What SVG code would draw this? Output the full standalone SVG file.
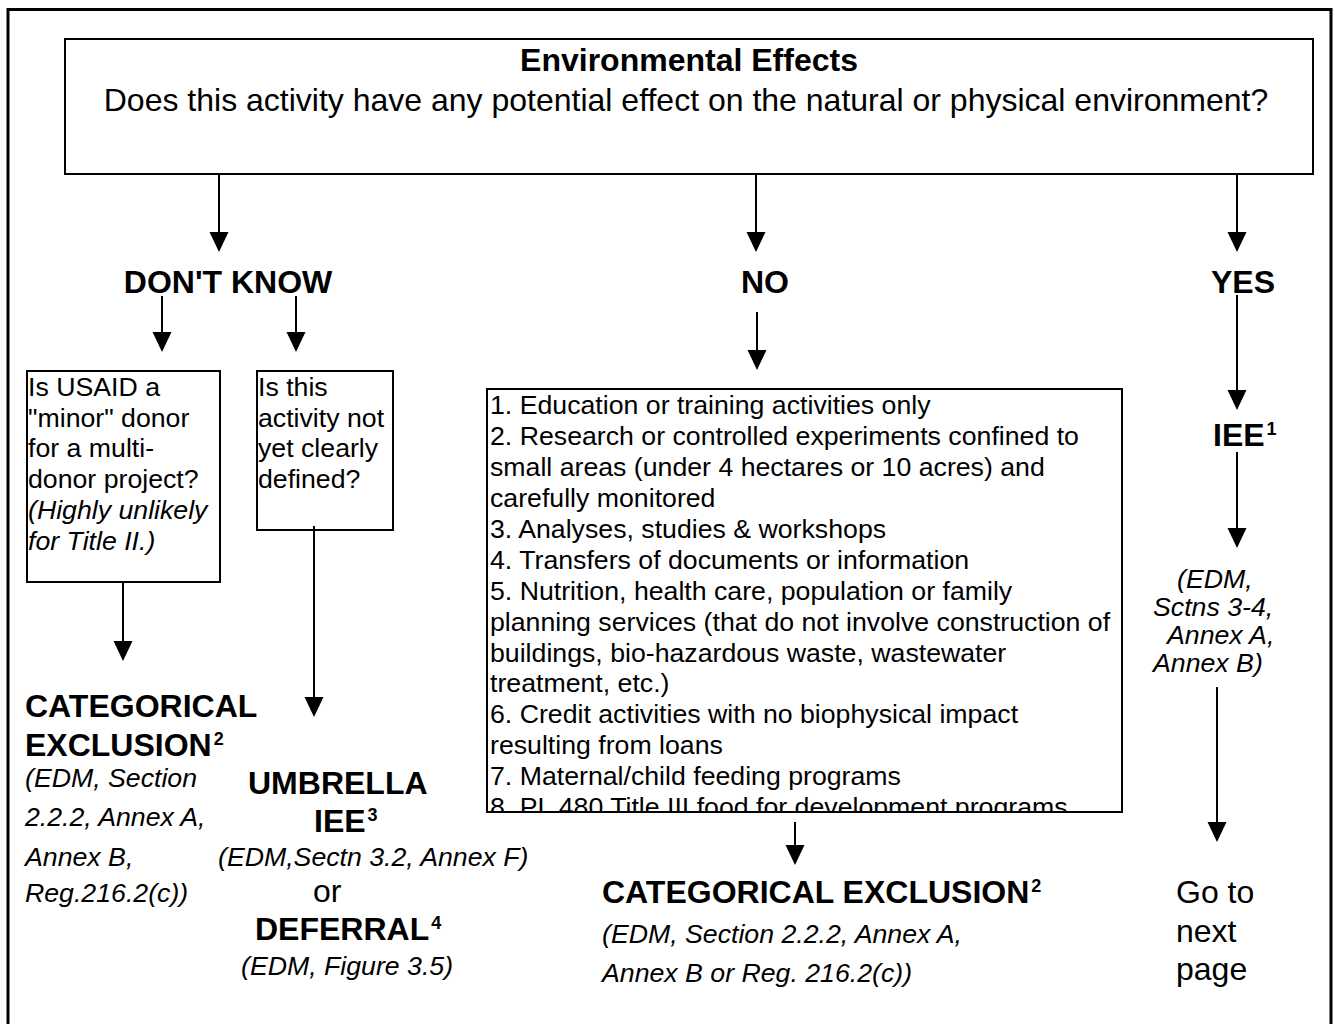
<svg xmlns="http://www.w3.org/2000/svg" width="1335" height="1024" viewBox="0 0 1335 1024">
<style>
text{font-family:"Liberation Sans",Arial,sans-serif;fill:#000}
.b{font-weight:bold;font-size:32px}
.r{font-size:32px}
.m{font-size:26.7px}
.i{font-size:26.7px;font-style:italic}
.sup{font-size:18px;font-weight:bold}
.box{fill:#fff;stroke:#000;stroke-width:2}
.c line{stroke:#000;stroke-width:2;marker-end:url(#ah)}
</style>
<defs>
<marker id="ah" markerUnits="userSpaceOnUse" markerWidth="20" markerHeight="20" viewBox="0 0 20 20" refX="12" refY="10" orient="auto">
<path d="M0,0.5 L20,10 L0,19.5 z" fill="#000"/>
</marker>
<clipPath id="lc"><rect x="488" y="390" width="633" height="421"/></clipPath>
</defs>
<rect x="0" y="0" width="1335" height="1024" fill="#fff"/>
<rect id="frame" x="8" y="9.5" width="1323" height="1040" fill="none" stroke="#000" stroke-width="3"/>

<g id="top">
<rect class="box" x="65" y="39" width="1248" height="135"/>
<text class="b" x="689" y="71" text-anchor="middle">Environmental Effects</text>
<text class="r" x="686" y="111" text-anchor="middle">Does this activity have any potential effect on the natural or physical environment?</text>
</g>

<g id="dontknow"><text class="b" x="228" y="293" text-anchor="middle">DON'T KNOW</text></g>
<g id="no"><text class="b" x="765" y="293" text-anchor="middle">NO</text></g>
<g id="yes"><text class="b" x="1243" y="293" text-anchor="middle">YES</text></g>

<g id="boxA">
<rect class="box" x="27" y="371" width="193" height="211"/>
<text class="m" x="28" y="396">Is USAID a</text>
<text class="m" x="28" y="427">"minor" donor</text>
<text class="m" x="28" y="457">for a multi-</text>
<text class="m" x="28" y="488">donor project?</text>
<text class="i" x="28" y="519">(Highly unlikely</text>
<text class="i" x="28" y="550">for Title II.)</text>
</g>

<g id="boxB">
<rect class="box" x="257" y="371" width="136" height="159"/>
<text class="m" x="258" y="396">Is this</text>
<text class="m" x="258" y="427">activity not</text>
<text class="m" x="258" y="457">yet clearly</text>
<text class="m" x="258" y="488">defined?</text>
</g>

<g id="list">
<rect class="box" x="487" y="389" width="635" height="423"/>
<g clip-path="url(#lc)">
<text class="m" x="490" y="414">1. Education or training activities only</text>
<text class="m" x="490" y="445">2. Research or controlled experiments confined to</text>
<text class="m" x="490" y="476">small areas (under 4 hectares or 10 acres) and</text>
<text class="m" x="490" y="507">carefully monitored</text>
<text class="m" x="490" y="538">3. Analyses, studies &amp; workshops</text>
<text class="m" x="490" y="569">4. Transfers of documents or information</text>
<text class="m" x="490" y="600">5. Nutrition, health care, population or family</text>
<text class="m" x="490" y="631">planning services (that do not involve construction of</text>
<text class="m" x="490" y="662">buildings, bio-hazardous waste, wastewater</text>
<text class="m" x="490" y="692">treatment, etc.)</text>
<text class="m" x="490" y="723">6. Credit activities with no biophysical impact</text>
<text class="m" x="490" y="754">resulting from loans</text>
<text class="m" x="490" y="785">7. Maternal/child feeding programs</text>
<text class="m" x="490" y="816">8. PL 480 Title III food for development programs</text>
</g>
</g>

<g id="iee">
<text class="b" x="1213" y="446">IEE<tspan class="sup" dx="2" dy="-11">1</tspan></text>
</g>
<g id="ieeRef">
<text class="i" x="1177" y="588">(EDM,</text>
<text class="i" x="1153" y="616">Sctns 3-4,</text>
<text class="i" x="1167" y="644">Annex A,</text>
<text class="i" x="1153" y="672">Annex B)</text>
</g>

<g id="catexLeft">
<text class="b" x="25" y="717">CATEGORICAL</text>
<text class="b" x="25" y="756">EXCLUSION<tspan class="sup" dx="2" dy="-11">2</tspan></text>
<text class="i" x="25" y="787">(EDM, Section</text>
<text class="i" x="25" y="826">2.2.2, Annex A,</text>
<text class="i" x="25" y="866">Annex B,</text>
<text class="i" x="25" y="902">Reg.216.2(c))</text>
</g>

<g id="umbrella">
<text class="b" x="248" y="794">UMBRELLA</text>
<text class="b" x="314" y="832">IEE<tspan class="sup" dx="2" dy="-11">3</tspan></text>
<text class="i" x="218" y="866">(EDM,Sectn 3.2, Annex F)</text>
<text class="r" x="313" y="902">or</text>
<text class="b" x="255" y="940">DEFERRAL<tspan class="sup" dx="2" dy="-11">4</tspan></text>
<text class="i" x="241" y="975">(EDM, Figure 3.5)</text>
</g>

<g id="catexNo">
<text class="b" x="602" y="903">CATEGORICAL EXCLUSION<tspan class="sup" dx="2" dy="-11">2</tspan></text>
<text class="i" x="602" y="943">(EDM, Section 2.2.2, Annex A,</text>
<text class="i" x="602" y="982">Annex B or Reg. 216.2(c))</text>
</g>

<g id="next">
<text class="r" x="1176" y="903">Go to</text>
<text class="r" x="1176" y="942">next</text>
<text class="r" x="1176" y="980">page</text>
</g>

<g id="connectors" class="c">
<line x1="219" y1="174" x2="219" y2="244"/>
<line x1="756" y1="174" x2="756" y2="244"/>
<line x1="1237" y1="174" x2="1237" y2="244"/>
<line x1="162" y1="296" x2="162" y2="344"/>
<line x1="296" y1="296" x2="296" y2="344"/>
<line x1="123" y1="582" x2="123" y2="653"/>
<line x1="314" y1="526" x2="314" y2="709"/>
<line x1="757" y1="312" x2="757" y2="362"/>
<line x1="795" y1="822" x2="795" y2="857"/>
<line x1="1237" y1="295" x2="1237" y2="402"/>
<line x1="1237" y1="452" x2="1237" y2="540"/>
<line x1="1217" y1="687" x2="1217" y2="834"/>
</g>
</svg>
